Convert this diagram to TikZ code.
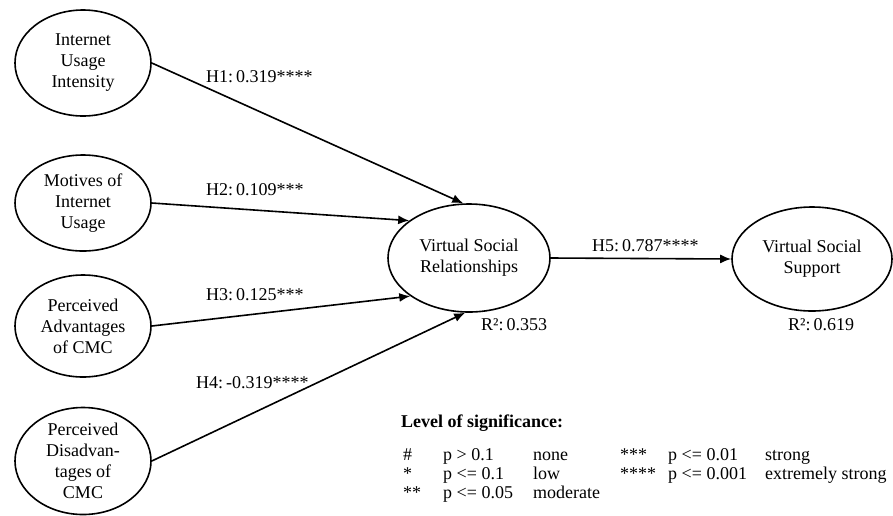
\documentclass[tikz,border=0pt]{standalone}
\usepackage{fontspec}
\setmainfont{Liberation Serif}
\usetikzlibrary{arrows.meta,shapes.geometric}
\begin{document}
\begin{tikzpicture}[x=1pt,y=-1pt,
  latent/.style={draw,ellipse,line width=1.6pt,inner sep=0pt,align=center,
    font=\fontsize{18}{21}\selectfont},
  path/.style={line width=1.6pt,-{Latex[length=11pt,width=9pt]}},
  coef/.style={anchor=base west,inner sep=0pt,font=\fontsize{18}{21}\selectfont},
  leg/.style={anchor=base west,inner sep=0pt,font=\fontsize{18}{20}\selectfont}]
\useasboundingbox (0,0) rectangle (893,515);
% latent variables
\node[latent,minimum width=136pt,minimum height=106pt] (iui) at (83,63) {Internet\\Usage\\Intensity};
\node[latent,minimum width=136pt,minimum height=96pt] (miu) at (83,203) {Motives of\\Internet\\Usage};
\node[latent,minimum width=136pt,minimum height=102pt] (pac) at (83,326) {Perceived\\Advantages\\of CMC};
\node[latent,minimum width=136pt,minimum height=106pt] (pdc) at (83,461) {Perceived\\Disadvan-\\tages of\\CMC};
\node[latent,minimum width=162pt,minimum height=108pt] (vsr) at (469,258) {Virtual Social\\Relationships};
\node[latent,minimum width=160pt,minimum height=104pt] (vss) at (812,259) {Virtual Social\\Support};
% paths
\draw[path] (iui.east) -- (vsr.96);
\draw[path] (miu.east) -- (vsr.148);
\draw[path] (pac.east) -- (vsr.213);
\draw[path] (pdc.east) -- (vsr.266);
\draw[path] (vsr.east) -- (vss.west);
% coefficients
\node[coef] (h1) at (206,82) {H1:\,0.319****};
\node[coef] (h2) at (206,195) {H2:\,0.109***};
\node[coef] (h3) at (206,300) {H3:\,0.125***};
\node[coef] (h4) at (196,388) {H4:\,-0.319****};
\node[coef] (h5) at (592,251) {H5:\,0.787****};
\node[coef] (r1) at (481,330) {R²:\,0.353};
\node[coef] (r2) at (788,330) {R²:\,0.619};
% legend
\node[leg,font=\fontsize{18}{20}\selectfont\bfseries] (lt) at (401,427) {Level of significance:};
\node[leg] (a1) at (403,460) {\#};
\node[leg] (b1) at (443,460) {p > 0.1};
\node[leg] (c1) at (533,460) {none};
\node[leg] (a2) at (403,479) {*};
\node[leg] (b2) at (443,479) {p <= 0.1};
\node[leg] (c2) at (533,479) {low};
\node[leg] (a3) at (403,498) {**};
\node[leg] (b3) at (443,498) {p <= 0.05};
\node[leg] (c3) at (533,498) {moderate};
\node[leg] (d1) at (620,460) {***};
\node[leg] (e1) at (668,460) {p <= 0.01};
\node[leg] (f1) at (765,460) {strong};
\node[leg] (d2) at (620,479) {****};
\node[leg] (e2) at (668,479) {p <= 0.001};
\node[leg] (f2) at (765,479) {extremely strong};
\end{tikzpicture}
\end{document}
